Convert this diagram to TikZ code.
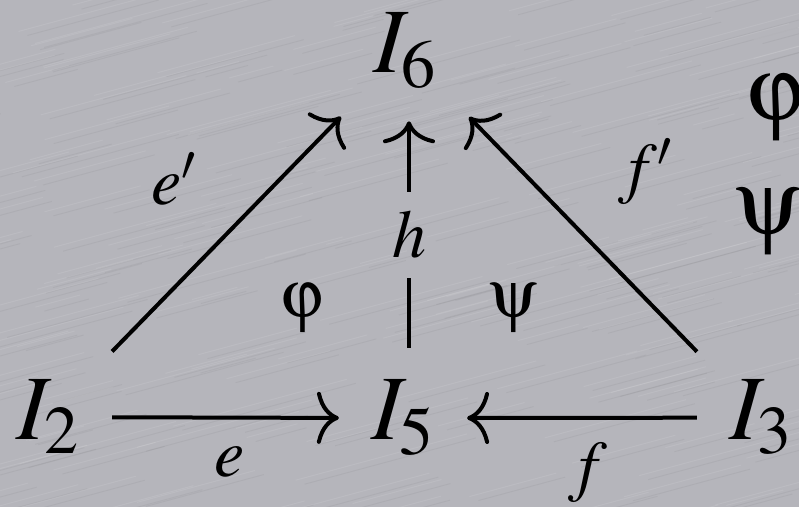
\documentclass[tikz,border=0pt]{standalone}
\usepackage{mathptmx}
\usepackage[Symbol]{upgreek}
\usetikzlibrary{arrows.meta}
\definecolor{metal}{RGB}{181,181,187}

\begin{document}
\begin{tikzpicture}[x=0.5pt,y=-0.5pt,
   obj/.style={font=\fontsize{46}{46}\selectfont,anchor=base,inner sep=16pt},
   lab/.style={font=\fontsize{34}{34}\selectfont,anchor=base,inner sep=9.5pt},
   arr/.style={line width=2pt,-{Computer Modern Rightarrow[length=11pt,width=26pt]}}]
  \useasboundingbox (0,0) rectangle (799,507);
  \clip (0,0) rectangle (799,507);
  \fill[metal] (0,0) rectangle (799,507);
  % brushed streaks
  \pgfmathsetseed{7}
  \foreach \i in {1,...,260}{
    \pgfmathsetmacro\sx{rnd*950-100}
    \pgfmathsetmacro\sy{rnd*700}
    \pgfmathsetmacro\sl{40+rnd*140}
    \draw[white,opacity=0.09,line width=0.5pt] (\sx,\sy) -- ++(\sl,-0.27*\sl);
    \draw[black,opacity=0.04,line width=0.5pt] (\sx+9,\sy+4) -- ++(\sl,-0.27*\sl);
  }
  % objects
  \node[obj] (I6) at (405,73) {$I_6$};
  \node[obj] (I2) at (48,440) {$I_2$};
  \node[obj] (I5) at (403,440) {$I_5$};
  \node[obj] (I3) at (761,440) {$I_3$};
  % morphisms
  \draw[arr] (I2) -- (I5);
  \draw[arr] (I3) -- (I5);
  \draw[arr] (I2) -- (I6);
  \draw[arr] (I3) -- (I6);
  \node[lab] (h) at (409,258) {$h$};
  \draw[line width=2pt] (h) -- (h |- I5.north);
  \draw[arr] (h) -- (h |- I6.south);
  \node[lab] (e) at (230,477) {$e$};
  \node[lab] (f) at (588,489) {$f$};
  \node[lab] (ep) at (174,205) {$e'$};
  \node[lab] (fp) at (645,191) {$f'$};
  % cells
  \node[lab] (phi) at (302,318) {$\upvarphi$};
  \node[lab] (psi) at (513,318) {$\uppsi$};
  \node[obj] (phiR) at (775,121) {$\upvarphi$};
  \node[obj] (psiR) at (768,235) {$\uppsi$};
\end{tikzpicture}
\end{document}
